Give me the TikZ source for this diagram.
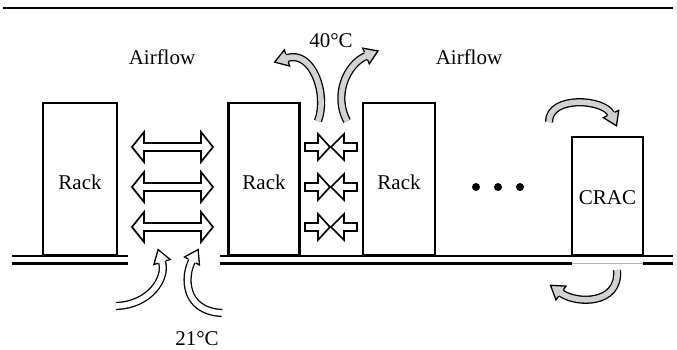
\documentclass[tikz,border=0pt]{standalone}
\usepackage{fontspec}
\setmainfont{Liberation Serif}
\newcommand\bentarrow[6]{%
  \draw[line width=1.3pt, double=#1, double distance=5.6pt] #2 .. controls #3 and #4 .. #5;
  \begin{scope}[shift={#5}, rotate=#6]
    \fill[#1] (0,4.1) -- (0,8.5) -- (13,0) -- (0,-8.5) -- (0,-4.1) -- cycle;
    \draw[line width=1.3pt, line join=miter] (0,4.1) -- (0,8.5) -- (13,0) -- (0,-8.5) -- (0,-4.1);
  \end{scope}}
\newcommand\dblarrow[3]{% x1, x2, y
  \draw[hollow] (#1,#3) -- ++(12,-15) -- ++(0,11) -- (#2-12,#3-4) -- ++(0,-11) -- (#2,#3)
     -- ++(-12,15) -- ++(0,-11) -- (#1+12,#3+4) -- ++(0,11) -- cycle;}
\newcommand\inarrows[1]{% y
  \draw[hollow] (305,#1-4) -- (318,#1-4) -- (318,#1-13) -- (330,#1) -- (318,#1+13) -- (318,#1+4) -- (305,#1+4) -- cycle;
  \draw[hollow] (357,#1-4) -- (344,#1-4) -- (344,#1-13) -- (331,#1) -- (344,#1+13) -- (344,#1+4) -- (357,#1+4) -- cycle;}
\begin{document}
\begin{tikzpicture}[x=1pt,y=-1pt,
  rackbox/.style={draw, line width=2.2pt, fill=white, inner sep=0pt},
  lbl/.style={font=\fontsize{21}{25}\selectfont, inner sep=0pt},
  hollow/.style={draw, line width=1.7pt, fill=white, line join=miter},
  floorline/.style={line width=2.6pt}]
\useasboundingbox (0,0) rectangle (677,350);
% top rule
\draw[line width=2.6pt] (3,8) -- (673,8);
% floor
\draw[floorline] (12,256) -- (128,256) (12,263.5) -- (128,263.5);
\draw[floorline] (220,256) -- (673,256) (220,263.5) -- (572,263.5) (643,263.5) -- (673,263.5);
\draw[gray!60, line width=1pt] (572,263.5) -- (643,263.5);
% racks
\node[rackbox, minimum width=74pt, minimum height=152pt] (r1) at (80,179) {};
\node[rackbox, minimum width=71pt, minimum height=152pt] (r2) at (264,179) {};
\node[rackbox, minimum width=72pt, minimum height=152pt] (r3) at (399,179) {};
\node[rackbox, minimum width=71pt, minimum height=118pt] (crac) at (607.5,196) {};
\path (r1.center) ++(0,10) node[lbl, anchor=base] (t1) {Rack};
\path (r2.center) ++(0,10) node[lbl, anchor=base] (t2) {Rack};
\path (r3.center) ++(0,10) node[lbl, anchor=base] (t3) {Rack};
\path (crac.center) ++(0,8) node[lbl, anchor=base] (t4) {CRAC};
% labels
\node[lbl, anchor=base] (af1) at (162,65) {Airflow};
\node[lbl, anchor=base] (af2) at (469,65) {Airflow};
\node[lbl, anchor=base] (hot) at (331,48) {40°C};
\node[lbl, anchor=base] (cold) at (197,345) {21°C};
% straight arrows
\dblarrow{132}{213}{147}
\dblarrow{132}{213}{187}
\dblarrow{132}{213}{227}
\inarrows{147}
\inarrows{187}
\inarrows{227}
% dots
\fill (476,187) circle (4) (498,187) circle (4) (520,187) circle (4);
% curved arrows
\bentarrow{gray!35}{(318,121)}{(328,95)}{(313,50)}{(287,58)}{-161.6}
\bentarrow{gray!35}{(347,121)}{(333,95)}{(347,64)}{(366,56)}{22.8}
\bentarrow{white}{(116,306)}{(150,305)}{(167,278)}{(162,262)}{107.4}
\bentarrow{white}{(222,313)}{(183,311)}{(184,276)}{(192,261)}{61.9}
\bentarrow{gray!35}{(549,122)}{(549,95)}{(604,99)}{(611,114)}{-65}
\bentarrow{gray!35}{(617,270)}{(620,305)}{(576,304)}{(561,293)}{143.7}
\end{tikzpicture}
\end{document}
